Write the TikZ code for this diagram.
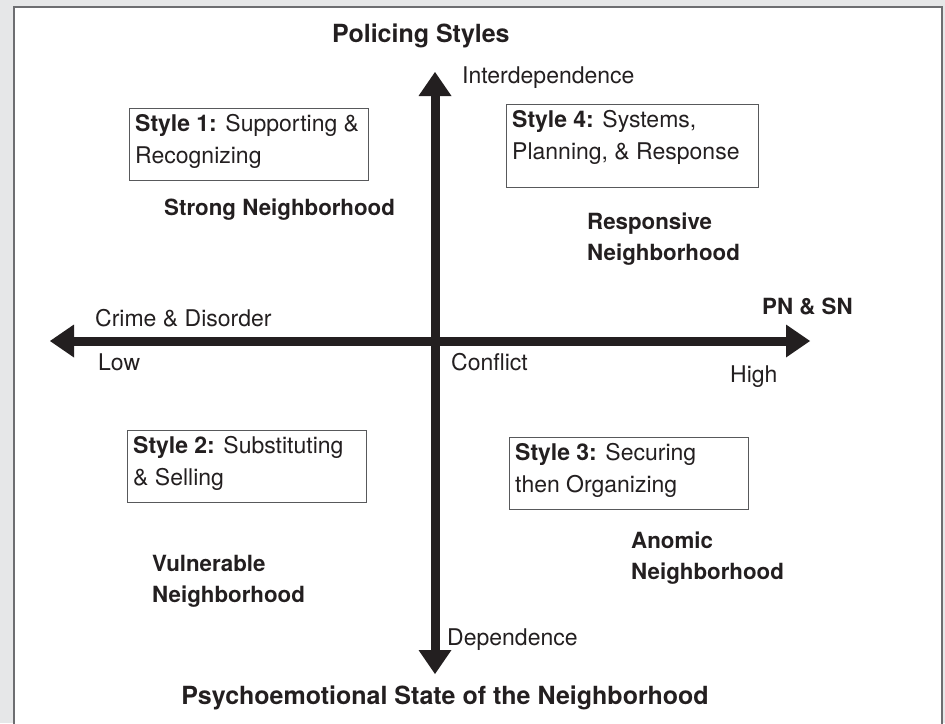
\documentclass[tikz,border=0pt]{standalone}
\usepackage{fontspec}
\setmainfont{TeX Gyre Heros}
\usetikzlibrary{arrows.meta}
\definecolor{ink}{HTML}{231F20}
\definecolor{bggray}{HTML}{E6E7E8}
\definecolor{framegray}{HTML}{6D6E71}
\definecolor{boxgray}{HTML}{58595B}
\tikzset{bigtri/.tip={Triangle[length=24pt,width=33pt,line width=0pt]}}
\begin{document}
\begin{tikzpicture}[x=1pt,y=-1pt,
  reg/.style={font=\fontsize{23}{32}\selectfont, text=ink, inner sep=0pt, align=left},
  boldlbl/.style={font=\fontsize{22.3}{31}\selectfont\bfseries, text=ink, inner sep=0pt, align=left},
  titlelbl/.style={font=\fontsize{25}{30}\selectfont\bfseries, text=ink, inner sep=0pt},
  stylebox/.style={draw=boxgray, line width=1.2pt, inner sep=0pt, anchor=north west},
  axisline/.style={draw=ink, line width=9pt, bigtri-bigtri}]
\useasboundingbox (0,0) rectangle (945,723);
\clip (0,0) rectangle (945,723);
\fill[bggray] (0,0) rectangle (945,723);
\draw[framegray, line width=1.5pt, fill=white] (14,7) rectangle (942,740);

% axes
\coordinate (L) at (50,341);
\coordinate (R) at (810,341);
\coordinate (T) at (435,72);
\coordinate (B) at (435,674);
\draw[axisline] (L) -- (R);
\draw[axisline] (B) -- (T);

% titles
\node[titlelbl, anchor=base west] (title) at (332,42) {Policing Styles};
\node[titlelbl, anchor=base] (xtitle) at (445,704) {Psychoemotional State of the Neighborhood};

% axis labels
\node[reg, anchor=base west] (inter) at (462,83) {Interdependence};
\node[reg, anchor=base west] (dep) at (447,645) {Dependence};
\node[reg, anchor=base west] (crime) at (95,326) {Crime \& Disorder};
\node[reg, anchor=base west] (low) at (98,370) {Low};
\node[reg, anchor=base west] (conf) at (451,370) {Conflict};
\node[reg, anchor=base west] (high) at (730,382) {High};
\node[boldlbl, anchor=base west] (pnsn) at (762,314) {PN \& SN};

% style boxes
\node[stylebox, minimum width=239pt, minimum height=72pt] (b1) at (129,108) {};
\node[reg, anchor=north west] (t1) at (135,114) {\textbf{Style 1:} Supporting \&\\Recognizing};
\node[stylebox, minimum width=252pt, minimum height=83pt] (b4) at (506,104) {};
\node[reg, anchor=north west] (t4) at (512,110) {\textbf{Style 4:} Systems,\\Planning, \& Response};
\node[stylebox, minimum width=239pt, minimum height=72pt] (b2) at (127,430) {};
\node[reg, anchor=north west] (t2) at (133,436) {\textbf{Style 2:} Substituting\\\& Selling};
\node[stylebox, minimum width=239pt, minimum height=72pt] (b3) at (509,437) {};
\node[reg, anchor=north west] (t3) at (515,443) {\textbf{Style 3:} Securing\\then Organizing};

% neighborhood labels
\node[boldlbl, anchor=base west] (strong) at (164,215) {Strong Neighborhood};
\node[boldlbl, anchor=north west] (resp) at (587,212.5) {Responsive\\Neighborhood};
\node[boldlbl, anchor=north west] (vuln) at (152,555.5) {Vulnerable\\Neighborhood};
\node[boldlbl, anchor=north west] (anom) at (631,531.5) {Anomic\\Neighborhood};
\end{tikzpicture}
\end{document}
